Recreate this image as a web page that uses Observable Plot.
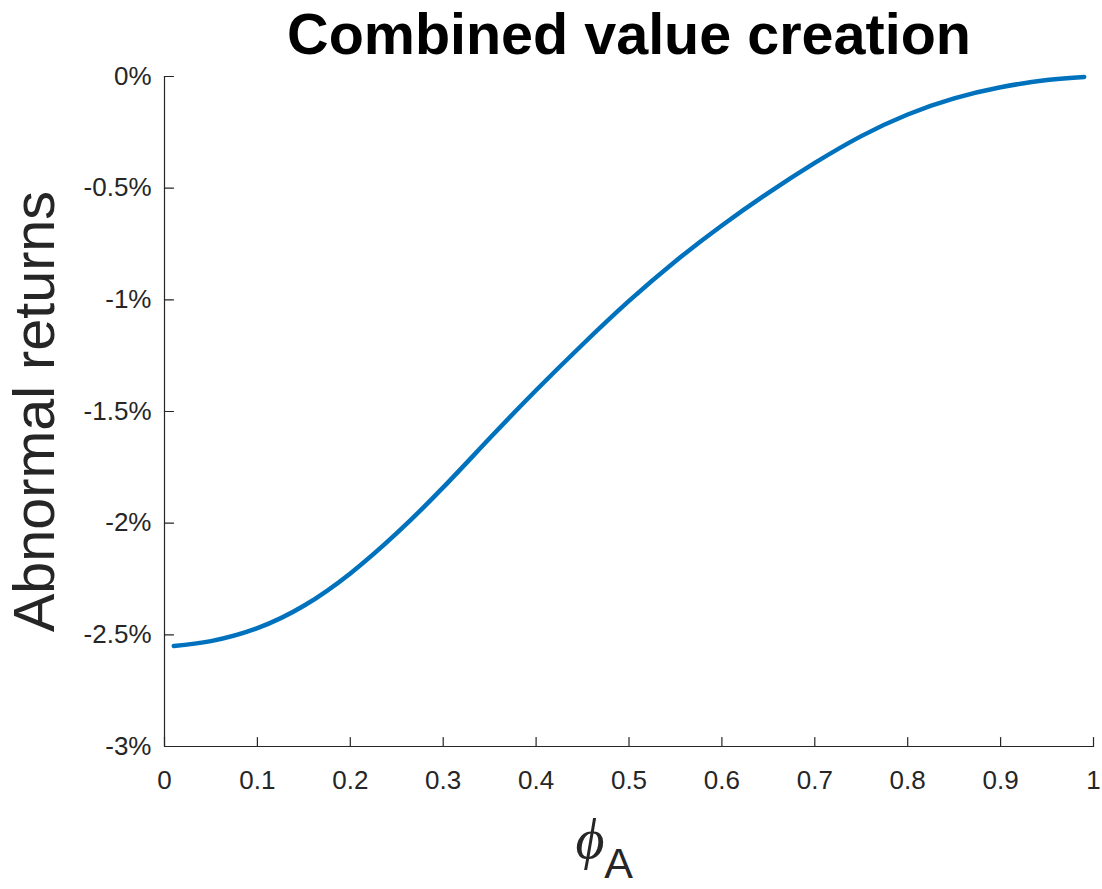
<!DOCTYPE html>
<html>
<head>
<meta charset="utf-8">
<script src="https://cdn.jsdelivr.net/npm/d3@7"></script>
<script src="https://cdn.jsdelivr.net/npm/@observablehq/plot@0.6"></script>
<style>
  html, body { margin: 0; padding: 0; background: #fff; }
  #chart svg { display: block; }
</style>
</head>
<body>
<div id="chart"></div>
<script>
// ---- data ----
const phiA = [0.01, 0.05, 0.10, 0.15, 0.20, 0.25, 0.30, 0.35, 0.40, 0.45, 0.50,
              0.55, 0.60, 0.65, 0.70, 0.75, 0.80, 0.85, 0.90, 0.95, 0.99];
const abnormalReturns = [-2.55, -2.528, -2.47, -2.37, -2.225, -2.045, -1.84, -1.62, -1.405, -1.20, -1.005,
                         -0.827, -0.667, -0.521, -0.387, -0.267, -0.170, -0.098, -0.048, -0.016, -0.002];
const xTicks = [0, 0.1, 0.2, 0.3, 0.4, 0.5, 0.6, 0.7, 0.8, 0.9, 1];
const yTicks = [0, -0.5, -1, -1.5, -2, -2.5, -3];
const xDomain = [0, 1];
const yDomain = [-3, 0];
const titleText = "Combined value creation";
const yLabel = "Abnormal returns";
const xLabelSymbol = "ϕ";
const xLabelSub = "A";

const data = phiA.map((x, i) => ({x, y: abnormalReturns[i]}));

const axisColor = "#262626";
const font = "Liberation Sans, Arial, Helvetica, sans-serif";
const tickShape = {draw(context, l) { context.moveTo(0, 0); context.lineTo(0, -l); }};

const chart = Plot.plot({
  width: 1102,
  height: 889,
  marginLeft: 164,
  marginRight: 9,
  marginTop: 76,
  marginBottom: 143,
  style: {fontFamily: font, background: "#fff", color: axisColor},
  x: {domain: xDomain, ticks: xTicks},
  y: {domain: yDomain, ticks: yTicks},
  marks: [
    // axis lines
    Plot.ruleX([xDomain[0]], {stroke: axisColor, strokeWidth: 1.2}),
    Plot.ruleY([yDomain[0]], {stroke: axisColor, strokeWidth: 1.2}),
    // inward ticks
    Plot.vector(yTicks, {x: xDomain[0], y: d => d, length: 9, rotate: 90, anchor: "start", shape: tickShape, stroke: axisColor, strokeWidth: 1.2}),
    Plot.vector(xTicks, {x: d => d, y: yDomain[0], length: 9, rotate: 0, anchor: "start", shape: tickShape, stroke: axisColor, strokeWidth: 1.2}),
    // tick labels
    Plot.axisY(yTicks, {tickSize: 0, tickPadding: 13, fontSize: 26, fill: axisColor, label: null,
      tickFormat: d => `${d}%`}),
    Plot.axisX(xTicks, {tickSize: 0, tickPadding: 24, fontSize: 26, fill: axisColor, label: null,
      tickFormat: d => `${d}`}),
    // the curve
    Plot.line(data, {x: "x", y: "y", stroke: "#0072BD", strokeWidth: 4.5, curve: "natural"}),
    // title
    Plot.text([titleText], {frameAnchor: "top", lineAnchor: "middle", textAnchor: "middle", dy: -41, fontSize: 57.5, fontWeight: "bold", fill: "#000"}),
    // y label
    Plot.text([yLabel], {frameAnchor: "left", lineAnchor: "middle", textAnchor: "middle", dx: -129, rotate: -90, fontSize: 57.5, fill: axisColor}),
    // x label: phi with subscript A
    Plot.text([xLabelSymbol], {frameAnchor: "bottom", lineAnchor: "middle", textAnchor: "middle", dx: -39, dy: 94, fontSize: 56, fontStyle: "italic",
      fontFamily: "Liberation Serif, DejaVu Serif, serif", fill: axisColor}),
    Plot.text([xLabelSub], {frameAnchor: "bottom", lineAnchor: "middle", textAnchor: "middle", dx: -10.5, dy: 118, fontSize: 43, fill: axisColor})
  ]
});
document.getElementById("chart").appendChild(chart);
</script>
</body>
</html>
